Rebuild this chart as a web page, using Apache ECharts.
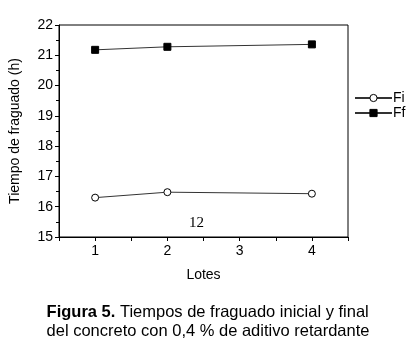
<!DOCTYPE html>
<html>
<head>
<meta charset="utf-8">
<script src="https://cdn.jsdelivr.net/npm/echarts@6/dist/echarts.min.js"></script>
<style>
  html, body { margin: 0; padding: 0; background: #fff; }
  #chart1 { width: 416px; height: 357px; }
</style>
</head>
<body>
<div id="chart1"></div>
<script>
// Lotes (x) y tiempos de fraguado (h)
var lotes = [1, 2, 4];
var fi = [16.30, 16.48, 16.43];
var ff = [21.18, 21.28, 21.36];
var xTicks = [1, 2, 3, 4];

function pares(ys) {
    return lotes.map(function (x, i) { return [x, ys[i]]; });
}

var dom = document.getElementById('chart1');
var myChart = echarts.init(dom);
var fuente = 'Liberation Sans, Arial, sans-serif';

myChart.setOption({
    animation: false,
    grid: {
        left: 58, right: 68, top: 25, bottom: 120,
        show: true, borderColor: '#000', borderWidth: 1
    },
    legend: {
        orient: 'vertical',
        left: 349, top: 86,
        itemWidth: 37, itemHeight: 9, itemGap: 1,
        itemStyle: { borderWidth: 1 },
        textStyle: { color: '#000', fontSize: 14, fontFamily: fuente, padding: [0, 0, 0, -4] },
        data: ['Fi', 'Ff']
    },
    xAxis: {
        type: 'value',
        min: 0.5, max: 4.5, interval: 0.5,
        name: 'Lotes',
        nameLocation: 'middle',
        nameGap: 31,
        nameTextStyle: { color: '#000', fontSize: 14, fontFamily: fuente },
        axisLine: { lineStyle: { color: '#000', width: 1 } },
        axisTick: { show: true, length: 4, inside: false, lineStyle: { color: '#000' } },
        axisLabel: {
            color: '#000', fontSize: 14, fontFamily: fuente, margin: 7,
            formatter: function (v) { return xTicks.indexOf(v) >= 0 ? String(v) : ''; }
        },
        splitLine: { show: false }
    },
    yAxis: {
        type: 'value',
        min: 15, max: 22, interval: 1,
        name: 'Tiempo de fraguado (h)',
        nameLocation: 'middle',
        nameGap: 37,
        nameRotate: 90,
        nameTextStyle: { color: '#000', fontSize: 14, fontFamily: fuente },
        axisLine: { show: true, lineStyle: { color: '#000', width: 1 } },
        axisTick: { show: true, length: 4, lineStyle: { color: '#000' } },
        minorTick: { show: true, splitNumber: 2, length: 3, lineStyle: { color: '#000' } },
        axisLabel: { color: '#000', fontSize: 14, fontFamily: fuente, margin: 6 },
        splitLine: { show: false }
    },
    series: [
        {
            name: 'Fi',
            type: 'line',
            data: pares(fi),
            symbol: 'circle',
            symbolSize: 7,
            lineStyle: { color: '#333', width: 1 },
            itemStyle: { color: '#fff', borderColor: '#000', borderWidth: 1 }
        },
        {
            name: 'Ff',
            type: 'line',
            data: pares(ff),
            symbol: 'rect',
            symbolSize: 7,
            lineStyle: { color: '#333', width: 1 },
            itemStyle: { color: '#000', borderColor: '#000', borderWidth: 1 }
        }
    ],
    graphic: [
        {
            type: 'text', left: 189, top: 216,
            style: { text: '12', fill: '#000', fontSize: 15, fontFamily: 'Liberation Serif, Times New Roman, serif' }
        },
        {
            type: 'text', left: 'center', top: 303,
            style: {
                text: '{b|Figura 5.} Tiempos de fraguado inicial y final\ndel concreto con 0,4 % de aditivo retardante',
                fill: '#000', fontSize: 16.5, fontFamily: fuente, align: 'center', lineHeight: 19,
                rich: { b: { fontWeight: 'bold', fontSize: 16.5, fontFamily: fuente, fill: '#000' } }
            }
        }
    ]
});
</script>
</body>
</html>
